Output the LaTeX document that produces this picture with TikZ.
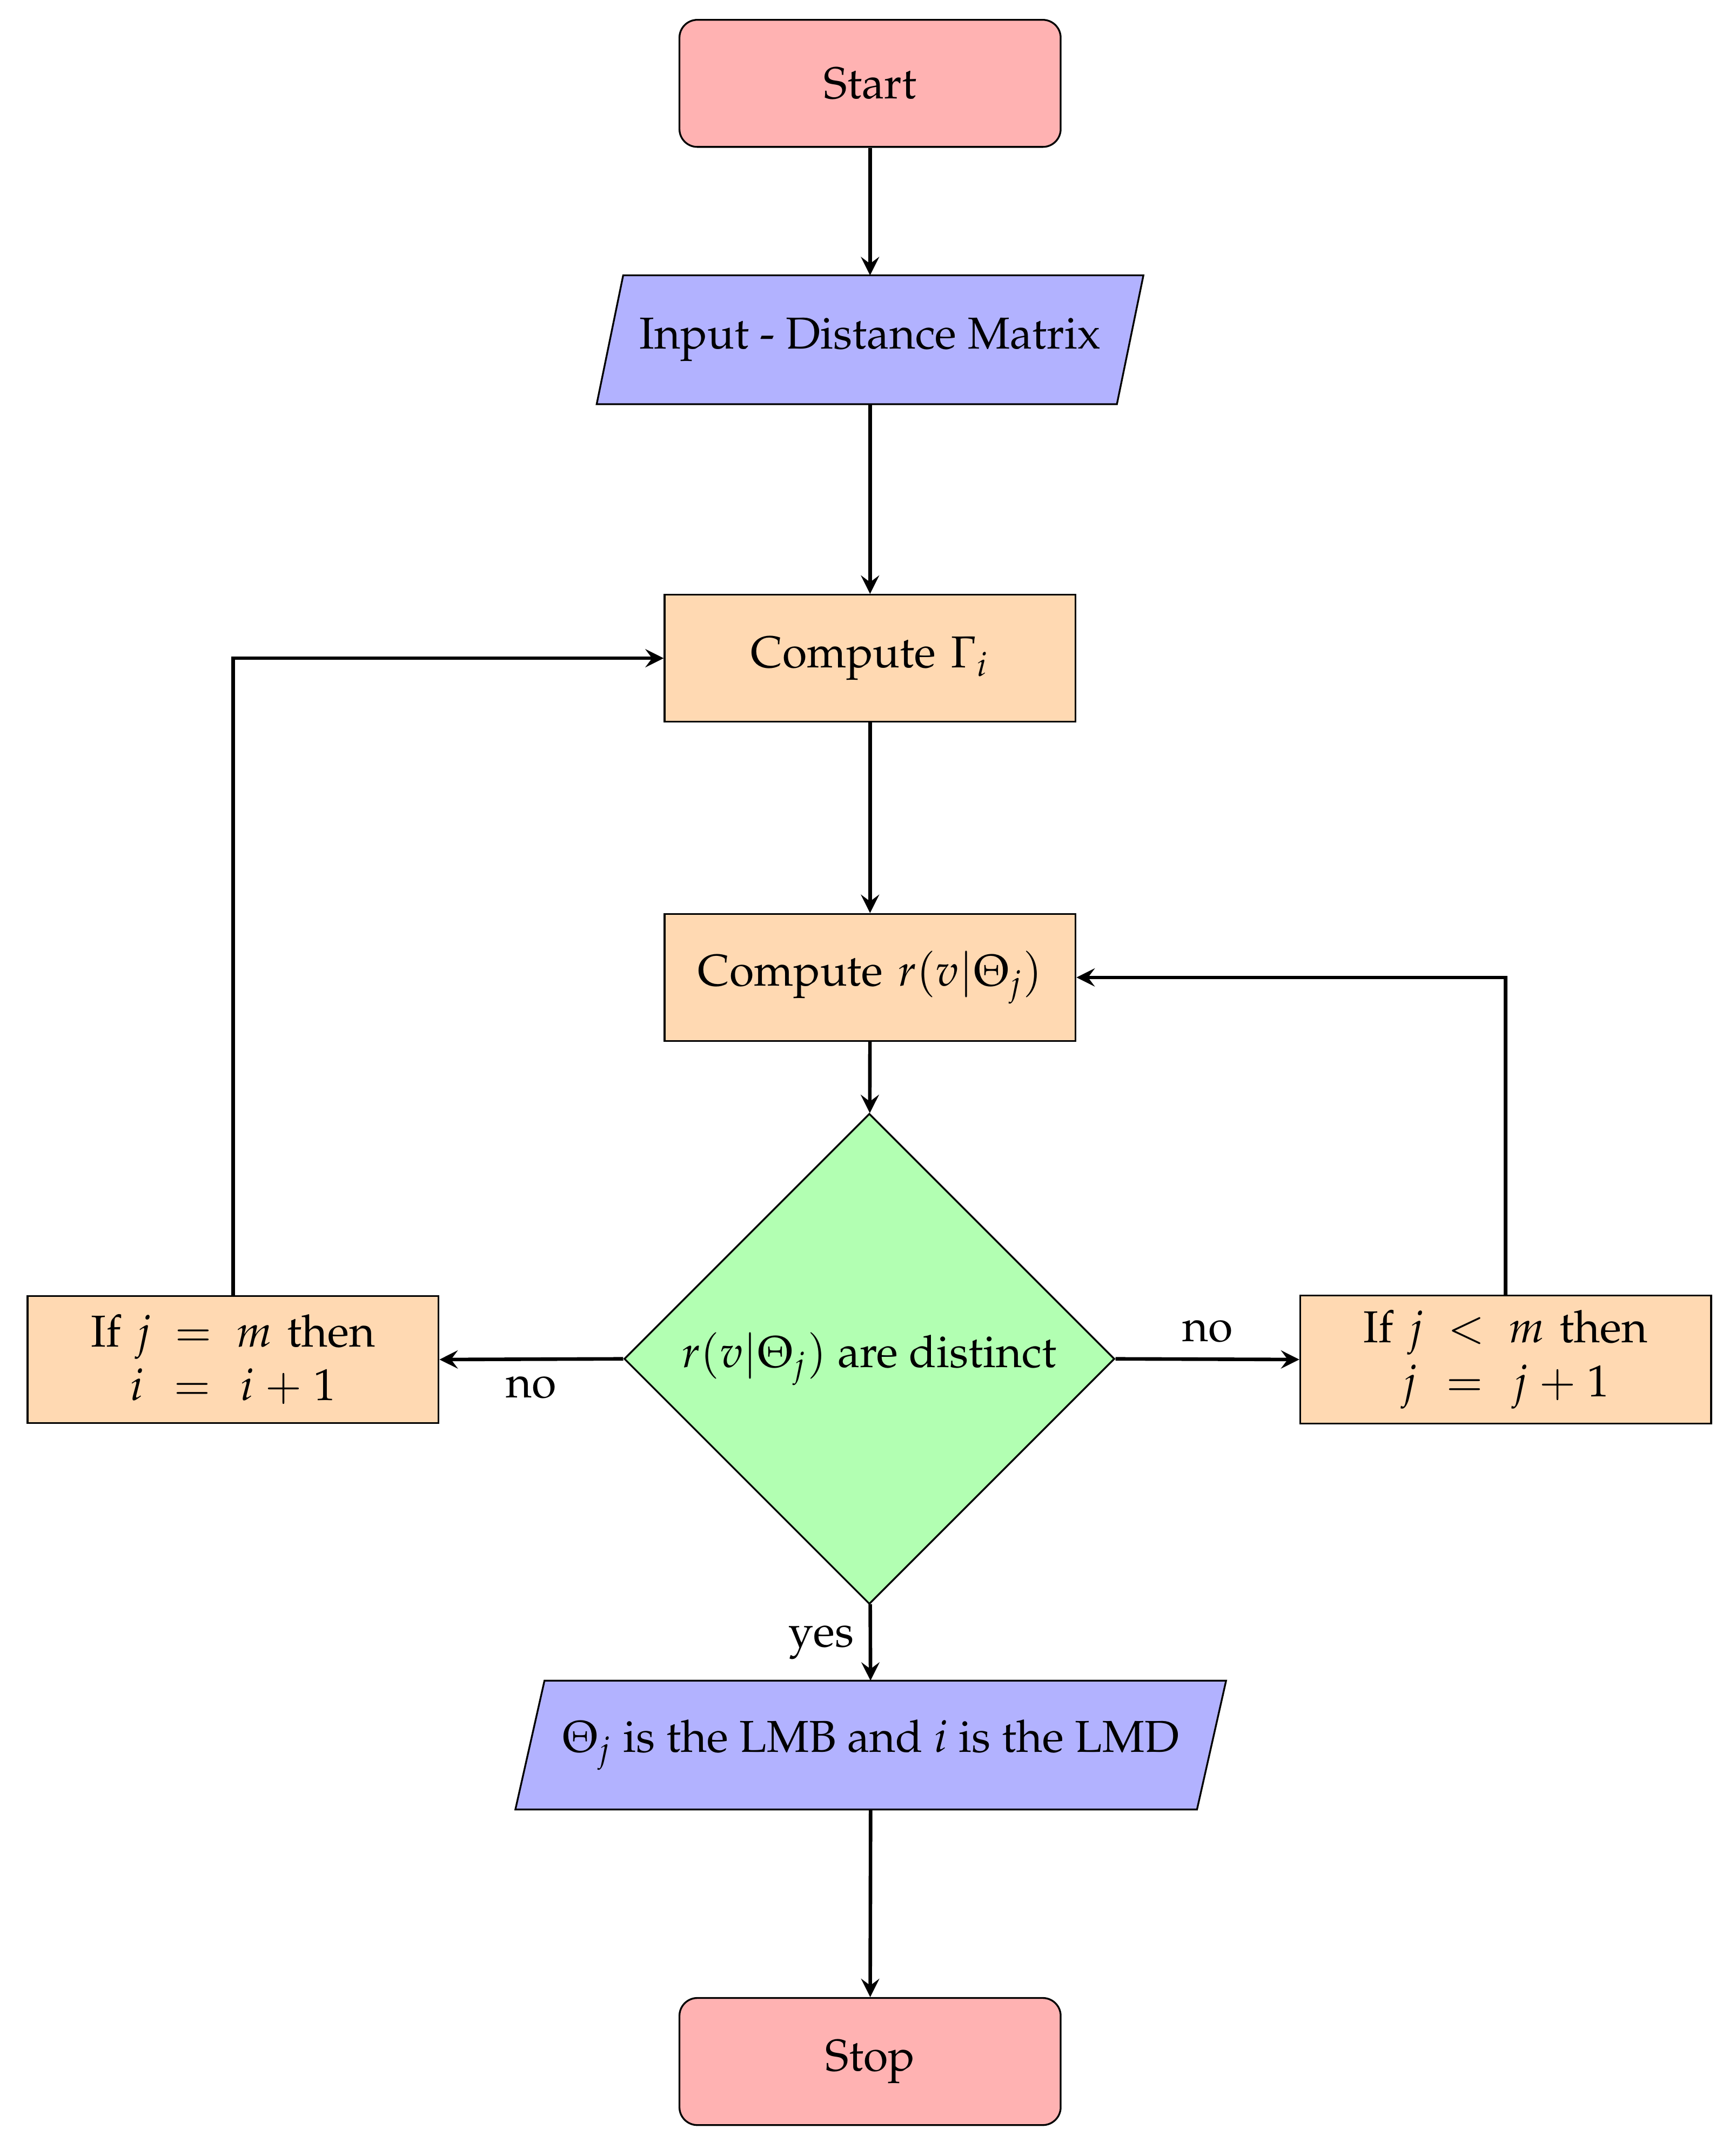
\documentclass[tikz,border=0pt]{standalone}
\usepackage[T1]{fontenc}
\usepackage{mathpazo}
\usetikzlibrary{shapes.geometric,arrows,backgrounds}
\begin{document}
\begin{tikzpicture}[x=0.010753cm,y=-0.010753cm,
  startstop/.style={rectangle, rounded corners, minimum width=3cm, minimum height=1cm, text centered, draw=black, fill=red!30},
  procbox/.style={rectangle, minimum width=3cm, minimum height=1cm, text width=3cm, align=center, draw=black, fill=orange!30},
  iotext/.style={rectangle, minimum height=1cm, inner sep=0pt},
  iofill/.style={fill=blue!30, draw=black},
  decbox/.style={diamond, aspect=1, minimum width=3.86cm, minimum height=3.86cm, inner sep=0pt, draw=black, fill=green!30},
  arrow/.style={thick,->,>=stealth}]
\useasboundingbox (0,0) rectangle (1270,1572);

\node[startstop] (start) at (636.5,61) {Start};
\node[iotext, minimum width=4.08cm] (in1) at (636.5,248.5) {Input - Distance Matrix};
\node[procbox] (pro1) at (636.5,481.5) {Compute $\Gamma_i$};
\node[procbox] (pro2) at (636.5,715) {Compute $r(v|\Theta_j)$};
\node[decbox] (dec) at (636,994) {$r(v|\Theta_j)$ are distinct};
\node[procbox] (left) at (170.5,994.5) {If $j \mskip2mu=\mskip2mu m$ then\\ $i \mskip2mu=\mskip2mu i+1$};
\node[procbox] (right) at (1101.5,994.5) {If $j \mskip2mu<\mskip2mu m$ then\\ $j \mskip2mu=\mskip2mu j+1$};
\node[iotext, minimum width=5.35cm] (out1) at (637,1276.5) {$\Theta_j$ is the LMB and $i$ is the LMD};
\node[startstop] (stop) at (636.5,1508) {Stop};

\begin{scope}[on background layer]
\filldraw[iofill] ([xshift=0.1043cm]in1.north west) -- ([xshift=0.1043cm]in1.north east) -- ([xshift=-0.1043cm]in1.south east) -- ([xshift=-0.1043cm]in1.south west) -- cycle;
\filldraw[iofill] ([xshift=0.1145cm]out1.north west) -- ([xshift=0.1145cm]out1.north east) -- ([xshift=-0.1145cm]out1.south east) -- ([xshift=-0.1145cm]out1.south west) -- cycle;
\end{scope}

\draw[arrow] (start) -- (in1);
\draw[arrow] (in1) -- (pro1);
\draw[arrow] (pro1) -- (pro2);
\draw[arrow] (pro2) -- (dec);
\draw[arrow] (dec.west) -- node[below]{no} (left.east);
\draw[arrow] (dec.east) -- node[above]{no} (right.west);
\draw[arrow] (dec) -- node[left]{yes} (out1);
\draw[arrow] (out1) -- (stop);
\draw[arrow] (left.north) |- (pro1.west);
\draw[arrow] (right.north) |- (pro2.east);
\end{tikzpicture}
\end{document}
